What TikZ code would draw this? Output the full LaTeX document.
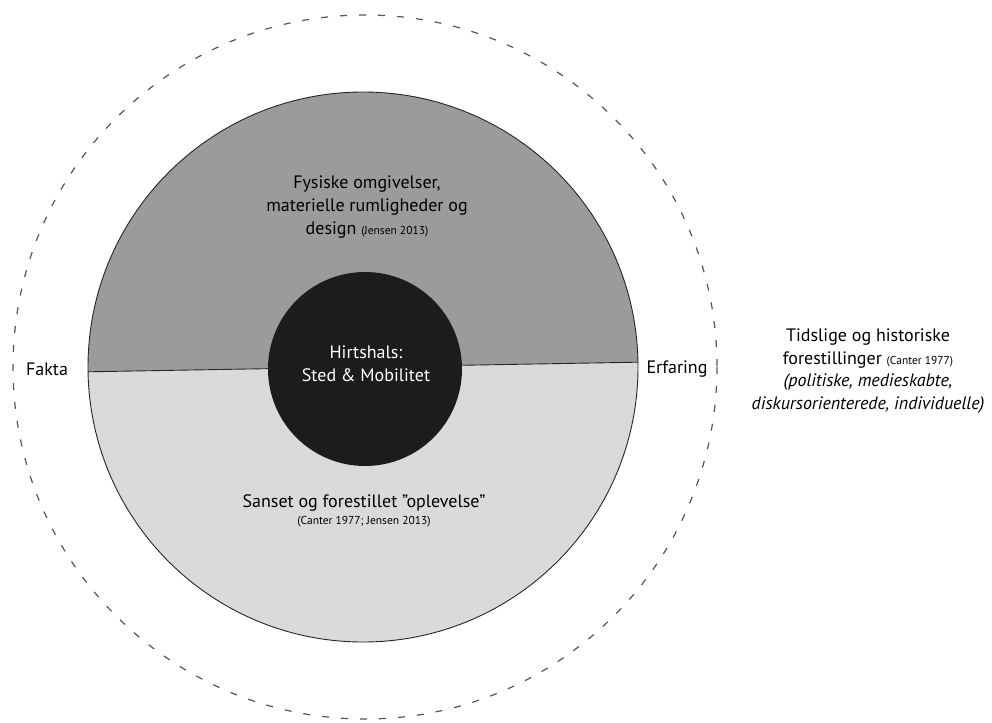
\documentclass[tikz,border=0pt]{standalone}
\usepackage{fontspec}
\setmainfont{PT Sans}
\usetikzlibrary{positioning}
\definecolor{topgray}{HTML}{9B9B9B}
\definecolor{bottomgray}{HTML}{DADADA}
\definecolor{hubblack}{HTML}{1C1C1C}
\definecolor{rimgray}{HTML}{555555}
\begin{document}
\begin{tikzpicture}[x=1pt,y=-1pt]
\tikzstyle{every node}=[inner sep=0pt, align=center, text=black]
\tikzstyle{txt}=[font=\fontsize{18}{23}\selectfont]
\tikzstyle{srcnote}=[font=\fontsize{11.5}{13}\selectfont]
\useasboundingbox (0,0) rectangle (992,722);

% outer dashed ring
\draw[rimgray, line width=1.2pt, dash pattern=on 7pt off 12pt] (365,367) circle[radius=352];

% the two halves
\coordinate (mid) at (363,367);
\fill[topgray] (mid) ++(-1:275) arc[start angle=-1, end angle=-181, radius=275] -- cycle;
\fill[bottomgray] (mid) ++(-181:275) arc[start angle=-181, end angle=-361, radius=275] -- cycle;
\draw[black!85, line width=0.9pt] (mid) circle[radius=275];
\draw[black!85, line width=0.9pt] (mid) ++(-181:275) coordinate (fakta end) -- ++(-1:550) coordinate (erfaring end);

% centre
\node[circle, fill=hubblack, minimum size=194pt] (hub) at (365,369) {};
\node[txt, text=white] (hub text) at (366,364) {Hirtshals:\\Sted \& Mobilitet};

\node[txt] (fysisk) at (367,207)
  {Fysiske omgivelser,\\materielle rumligheder og\\design {\fontsize{11.5}{13}\selectfont (Jensen 2013)}};
\node[txt] (sanset) at (364,503) {Sanset og forestillet ”oplevelse”};
\node[srcnote, below=5pt of sanset] (sanset ref) {(Canter 1977; Jensen 2013)};

\node[txt] (fakta) at (47,369) {Fakta};
\node[txt] (erfaring) at (677,369) {Erfaring};

\node[txt, font=\fontsize{18}{22.5}\selectfont] (tid) at (868,371)
  {Tidslige og historiske\\forestillinger {\fontsize{11.5}{13}\selectfont (Canter 1977)}\\
   \textit{(politiske, medieskabte,}\\\textit{diskursorienterede, individuelle)}};
\end{tikzpicture}
\end{document}
